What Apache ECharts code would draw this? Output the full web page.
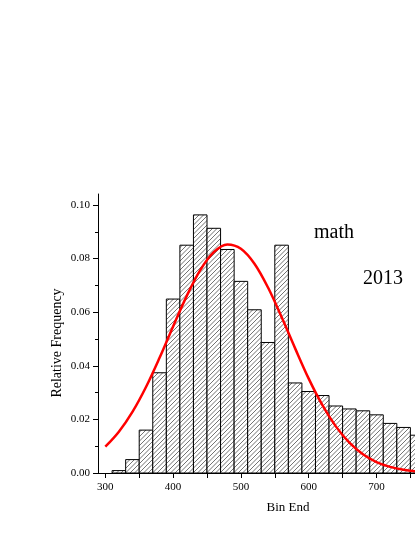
<!DOCTYPE html>
<html>
<head>
<meta charset="utf-8">
<script src="https://cdn.jsdelivr.net/npm/echarts@6/dist/echarts.min.js"></script>
<style>
  html, body { margin: 0; padding: 0; background: #fff; }
  #chart { width: 415px; height: 537px; }
</style>
</head>
<body>
<div id="chart"></div>
<script>
// histogram bins (20 wide)
const binEdges = [310, 330, 350, 370, 390, 410, 430, 450, 470, 490, 510, 530, 550,
    570, 590, 610, 630, 650, 670, 690, 710, 730, 750, 770]
const binFreq = [0.0009, 0.005, 0.016, 0.0374, 0.0649, 0.085, 0.0963, 0.0913, 0.0834,
    0.0715, 0.0609, 0.0487, 0.085, 0.0336, 0.0304, 0.0289, 0.025, 0.0239, 0.0232,
    0.0217, 0.0185, 0.017, 0.0141]

// red fitted curve
const curveX = [300, 320, 340, 360, 380, 400, 420, 440, 460, 480, 500, 520, 540, 560,
    580, 600, 620, 640, 660, 680, 700, 720, 740, 760]
const curveY = [0.0098, 0.0154, 0.0228, 0.0321, 0.043, 0.0547, 0.066, 0.0757, 0.0824,
    0.0853, 0.0837, 0.0781, 0.0692, 0.0582, 0.0465, 0.0352, 0.0254, 0.0174, 0.0113,
    0.007, 0.0041, 0.0023, 0.0012, 0.0006]

const xLabels = [300, 400, 500, 600, 700]
const xTicks = [300, 350, 400, 450, 500, 550, 600, 650, 700, 750]
const yLabels = [0, 0.02, 0.04, 0.06, 0.08, 0.10]
const yMinor = [0.01, 0.03, 0.05, 0.07, 0.09]

const font = "'Liberation Serif', 'Times New Roman', serif"

function hatch() {
    // 9px tile holding two diagonals -> 4.5px spacing
    const s = 9
    const c = document.createElement('canvas')
    c.width = s
    c.height = s
    const g = c.getContext('2d')
    g.fillStyle = '#fff'
    g.fillRect(0, 0, s, s)
    g.strokeStyle = '#444'
    g.lineWidth = 0.75
    g.beginPath()
    for (let k = -2; k <= 2; k++) {
        const o = k * s / 2
        g.moveTo(o - 1, s + 1)
        g.lineTo(o + s + 1, -1)
    }
    g.stroke()
    return c
}

const bars = binFreq.map((v, i) => [binEdges[i], binEdges[i + 1], v])
const curve = curveX.map((x, i) => [x, curveY[i]])
const pattern = { image: hatch(), repeat: 'repeat' }

let chart = echarts.init(document.getElementById('chart'))
chart.setOption({
    animation: false,
    grid: { left: 98, right: 0, top: 194, bottom: 64 },
    xAxis: {
        type: 'value',
        min: 289.2,
        max: 756.8,
        splitLine: { show: false },
        axisLine: { lineStyle: { color: '#000', width: 1 } },
        axisTick: { customValues: xTicks, length: 5, lineStyle: { color: '#000' } },
        axisLabel: { customValues: xLabels, color: '#000', fontFamily: font, fontSize: 11, margin: 9 }
    },
    yAxis: [{
        type: 'value',
        min: 0,
        max: 0.1041,
        splitLine: { show: false },
        axisLine: { show: true, lineStyle: { color: '#000', width: 1 } },
        axisTick: { customValues: yLabels, length: 5, lineStyle: { color: '#000' } },
        axisLabel: {
            customValues: yLabels, color: '#000', fontFamily: font, fontSize: 11, margin: 8,
            formatter: v => v.toFixed(2)
        }
    }, {
        type: 'value',
        position: 'left',
        min: 0,
        max: 0.1041,
        splitLine: { show: false },
        axisLine: { show: false },
        axisTick: { customValues: yMinor, length: 3, lineStyle: { color: '#000' } },
        axisLabel: { show: false }
    }],
    graphic: [
        { type: 'text', x: 334, y: 233, style: { text: 'math', font: '20px ' + font, fill: '#000', textAlign: 'center', textVerticalAlign: 'middle' } },
        { type: 'text', x: 383, y: 279, style: { text: '2013', font: '20px ' + font, fill: '#000', textAlign: 'center', textVerticalAlign: 'middle' } },
        { type: 'text', x: 288, y: 508, style: { text: 'Bin End', font: '13px ' + font, fill: '#000', textAlign: 'center', textVerticalAlign: 'middle' } },
        { type: 'text', x: 57, y: 343, rotation: Math.PI / 2, style: { text: 'Relative Frequency', font: '14px ' + font, fill: '#000', textAlign: 'center', textVerticalAlign: 'middle' } }
    ],
    series: [
        {
            type: 'custom',
            clip: true,
            data: bars,
            encode: { x: [0, 1], y: 2 },
            renderItem: function (params, api) {
                const p0 = api.coord([api.value(0), api.value(2)])
                const p1 = api.coord([api.value(1), 0])
                return {
                    type: 'rect',
                    shape: { x: p0[0], y: p0[1], width: p1[0] - p0[0], height: p1[1] - p0[1] },
                    style: { fill: pattern, stroke: '#000', lineWidth: 1 }
                }
            }
        },
        {
            type: 'line',
            data: curve,
            smooth: 0.35,
            symbol: 'none',
            z: 5,
            lineStyle: { color: '#ff0000', width: 2.5 }
        }
    ]
})
</script>
</body>
</html>
